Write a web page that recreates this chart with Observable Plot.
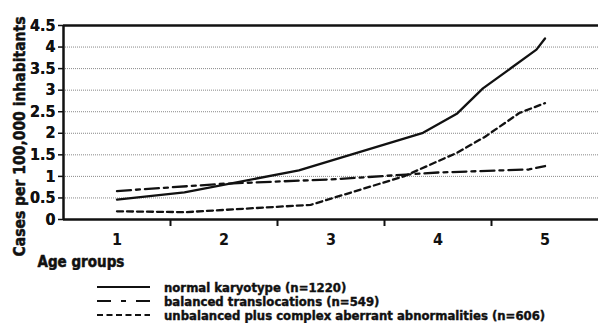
<!DOCTYPE html>
<html>
<head>
<meta charset="utf-8">
<script src="https://cdn.jsdelivr.net/npm/d3@7"></script>
<script src="https://cdn.jsdelivr.net/npm/@observablehq/plot@0.6"></script>
<style>
  html, body { margin: 0; padding: 0; background: #fff; }
  body { width: 598px; height: 323px; overflow: hidden; }
  .cf { font-family: "DejaVu Sans Condensed", "Liberation Sans Narrow", sans-serif; font-weight: bold; font-stretch: condensed; }
  #legend { position: relative; height: 53px; padding-top: 10px; box-sizing: border-box; }
  .row { display: flex; align-items: center; height: 14px; font-size: 13px; color: #111; -webkit-text-stroke: 0.4px #111; }
  .row svg { margin-left: 97px; margin-right: 14px; }
</style>
</head>
<body>
<div id="chart"></div>
<div id="legend" class="cf"></div>
<script>
// Series (x in age-group units, y in cases per 100,000 inhabitants)
const normalX = [1.0, 1.63, 2.70, 3.86, 4.18, 4.42, 4.92, 5.0];
const normalY = [0.46, 0.63, 1.14, 2.01, 2.46, 3.04, 3.94, 4.2];
const balancedX = [1.0, 2.0, 3.0, 4.0, 4.85, 5.0];
const balancedY = [0.66, 0.83, 0.93, 1.09, 1.16, 1.24];
const unbalancedX = [1.0, 1.64, 2.81, 3.68, 4.18, 4.44, 4.76, 5.0];
const unbalancedY = [0.19, 0.17, 0.34, 1.0, 1.55, 1.92, 2.47, 2.70];

const seriesNames = [
  "normal karyotype (n=1220)",
  "balanced translocations (n=549)",
  "unbalanced plus complex aberrant abnormalities (n=606)"
];
const dashes = [null, "14,5,4,5", "6,4"];

const groupTicks = [1, 2, 3, 4, 5];
const boundaryTicks = [1.5, 2.5, 3.5, 4.5];
const yTicks = [0, 0.5, 1, 1.5, 2, 2.5, 3, 3.5, 4, 4.5];
const gridTicks = [0.5, 1, 1.5, 2, 2.5, 3, 3.5, 4];
const yTitle = "Cases per 100,000 inhabitants";
const xTitle = "Age groups";

const toRows = (xs, ys, s) => xs.map((x, i) => ({x, y: ys[i], s}));
const data = [
  ...toRows(normalX, normalY, 0),
  ...toRows(balancedX, balancedY, 1),
  ...toRows(unbalancedX, unbalancedY, 2)
];

const lines = [0, 1, 2].map(s => Plot.line(data.filter(d => d.s === s), {
  x: "x", y: "y", stroke: "#111", strokeWidth: 2.3, strokeDasharray: dashes[s]
}));

const FONT = '"DejaVu Sans Condensed", "Liberation Sans Narrow", sans-serif';
const heavy = {fontWeight: "bold", fill: "#111", stroke: "#111", strokeWidth: 0.5};

const chart = Plot.plot({
  width: 598,
  height: 270,
  marginLeft: 63,
  marginRight: 0,
  marginTop: 25,
  marginBottom: 51,
  style: {fontFamily: FONT, fontWeight: "bold", fontSize: "15px", color: "#111", background: "#fff"},
  x: {domain: [0.5, 5.5]},
  y: {domain: [0, 4.5]},
  marks: [
    Plot.gridY(gridTicks, {stroke: "#888", strokeOpacity: 1, strokeWidth: 1, strokeDasharray: "1,1"}),
    Plot.axisY(yTicks, {tickSize: 5, tickPadding: 3, tickFormat: d => String(d), fontSize: 16, label: null, strokeWidth: 1.5}),
    Plot.axisY(yTicks, {tickSize: 0, tickPadding: 8, tickFormat: d => String(d), fontSize: 16, label: null, ...heavy}),
    Plot.text([yTitle], {frameAnchor: "left", rotate: -90, dx: -43, dy: 14, fontSize: 15.5, textAnchor: "middle", ...heavy}),
    Plot.axisX(groupTicks, {tickSize: 0, tickPadding: 14, fontSize: 16, label: null, ...heavy}),
    Plot.axisX(boundaryTicks, {tickSize: 7, tickFormat: () => "", label: null, strokeWidth: 2}),
    Plot.text([xTitle], {frameAnchor: "bottom-left", dx: -26, dy: 47, fontSize: 15, textAnchor: "start", ...heavy}),
    Plot.ruleY([0], {stroke: "#111", strokeWidth: 2.5}),
    Plot.ruleY([4.5], {stroke: "#111", strokeWidth: 2.5}),
    Plot.ruleX([0.5], {stroke: "#111", strokeWidth: 2.5, y1: 0, y2: 4.5}),
    ...lines
  ]
});
document.getElementById("chart").appendChild(chart);

// Legend
const legend = document.getElementById("legend");
seriesNames.forEach((name, i) => {
  const row = document.createElement("div");
  row.className = "row";
  const ns = "http://www.w3.org/2000/svg";
  const svg = document.createElementNS(ns, "svg");
  svg.setAttribute("width", 53);
  svg.setAttribute("height", 14);
  const ln = document.createElementNS(ns, "line");
  ln.setAttribute("x1", 0); ln.setAttribute("x2", 53);
  ln.setAttribute("y1", 7); ln.setAttribute("y2", 7);
  ln.setAttribute("stroke", "#111");
  ln.setAttribute("stroke-width", 2);
  if (i === 1) ln.setAttribute("stroke-dasharray", "14,10,5,10");
  if (i === 2) ln.setAttribute("stroke-dasharray", "6,3.5");
  svg.appendChild(ln);
  row.appendChild(svg);
  const span = document.createElement("span");
  span.textContent = name;
  row.appendChild(span);
  legend.appendChild(row);
});
</script>
</body>
</html>
